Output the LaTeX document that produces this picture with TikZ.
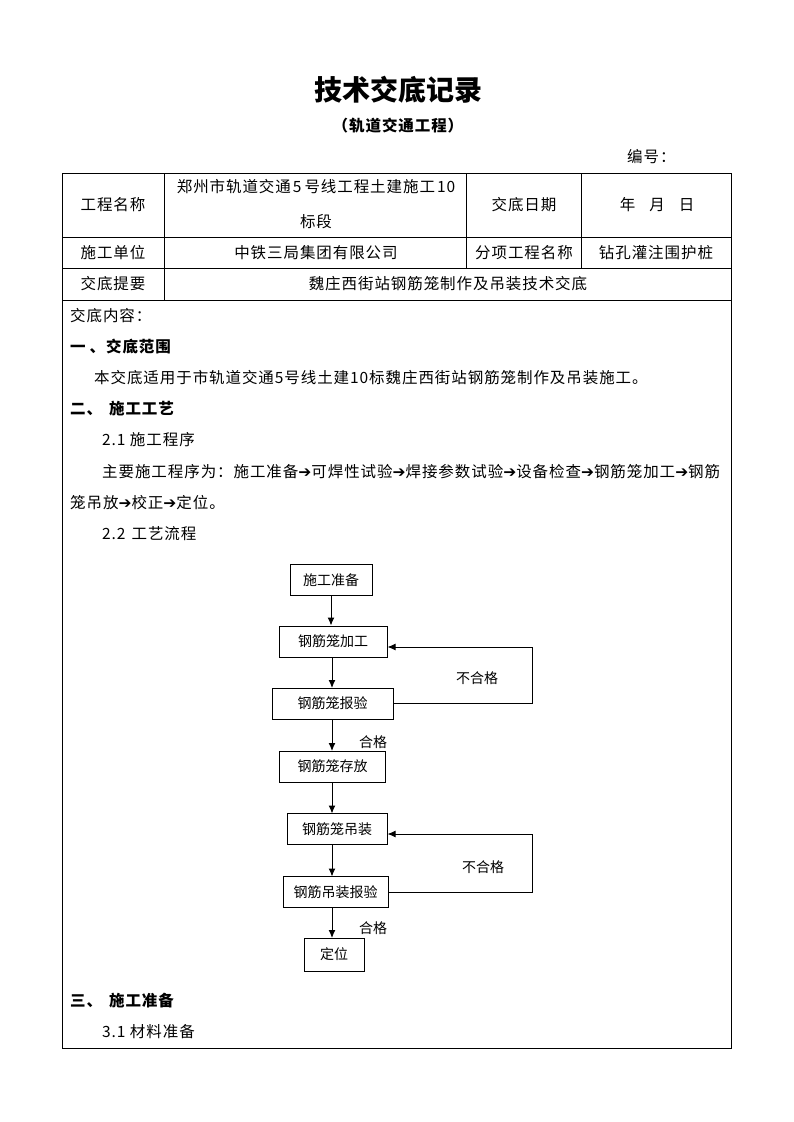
\documentclass[tikz,border=0pt]{standalone}
\usepackage{fontspec}
\setmainfont{Noto Sans CJK SC}[LetterSpace=6]
\newfontfamily\flowfont{Noto Sans CJK SC}
\newfontfamily\symfont{DejaVu Sans}
\usetikzlibrary{arrows.meta}
\newcommand{\thento}{{\symfont\char"2794}}
\tikzset{
  cell/.style={align=center,inner sep=0pt,font=\fontsize{15.5}{18}\selectfont},
  body/.style={anchor=west,inner sep=0pt,font=\fontsize{15.5}{18}\selectfont},
  flowbox/.style={draw,line width=1pt,minimum height=31pt,inner sep=0pt,font=\flowfont\fontsize{14}{16}\selectfont},
  flow/.style={line width=1pt,-{Latex[length=8pt,width=7pt]}},
  tag/.style={inner sep=0pt,font=\flowfont\fontsize{14}{16}\selectfont}
}
\begin{document}
\begin{tikzpicture}[x=1pt,y=-1pt]
\useasboundingbox (0,0) rectangle (793,1122);
\node[font=\flowfont\fontsize{28}{32}\selectfont\bfseries] (title) at (398,90){技术交底记录};
\node[font=\fontsize{15.5}{18}\selectfont\bfseries] (subtitle) at (398,126){（轨道交通工程）};
\node[body] (bianhao) at (627,157){编号：};
\draw[line width=1pt] (62,173) rectangle (731,1048);
\draw[line width=1pt] (62,237) -- (731,237);
\draw[line width=1pt] (62,268) -- (731,268);
\draw[line width=1pt] (62,300) -- (731,300);
\draw[line width=1pt] (164,173) -- (164,300);
\draw[line width=1pt] (466,173) -- (466,268);
\draw[line width=1pt] (581,173) -- (581,268);
\node[cell] (gcmc) at (113,205){工程名称};
\node[cell] (gcmcA) at (316,187){郑州市轨道交通\hspace{2pt}5\hspace{3pt}号线工程土建施工\hspace{2pt}10};
\node[cell] (gcmcB) at (316,222){标段};
\node[cell] (jdrq) at (524,205){交底日期};
\node[cell] (nyr) at (657,205){年\hspace{14pt}月\hspace{14pt}日};
\node[cell] (sgdw) at (113,253){施工单位};
\node[cell] (sgdwA) at (316,253){中铁三局集团有限公司};
\node[cell] (fxgc) at (524,253){分项工程名称};
\node[cell] (fxgcA) at (656,253){钻孔灌注围护桩};
\node[cell] (jdty) at (113,284){交底提要};
\node[cell] (jdtyA) at (448,284){魏庄西街站钢筋笼制作及吊装技术交底};
\node[body] (nr) at (70,316){交底内容：};
\node[body,font=\fontsize{15.5}{18}\selectfont\bfseries] (s1) at (70,347){一\hspace{4pt}、交底范围};
\node[body] (s1a) at (94,378){本交底适用于市轨道交通5号线土建10标魏庄西街站钢筋笼制作及吊装施工。};
\node[body,font=\fontsize{15.5}{18}\selectfont\bfseries] (s2) at (70,409){二、\hspace{7pt}施工工艺};
\node[body] (s21) at (102,440){2.1 施工程序};
\node[body] (s21a) at (102,472){主要施工程序为：施工准备\thento 可焊性试验\thento 焊接参数试验\thento 设备检查\thento 钢筋笼加工\thento 钢筋};
\node[body] (s21b) at (70,503){笼吊放\thento 校正\thento 定位。};
\node[body] (s22) at (102,534){2.2\hspace{6pt}工艺流程};
\node[flowbox,minimum width=82pt] (zb) at (331,580){施工准备};
\node[flowbox,minimum width=108pt] (jg) at (333,641.5){钢筋笼加工};
\node[flowbox,minimum width=121pt] (bao) at (332.5,703.5){钢筋笼报验};
\node[flowbox,minimum width=106pt] (cf) at (332.5,766.5){钢筋笼存放};
\node[flowbox,minimum width=100pt] (dz) at (337,829){钢筋笼吊装};
\node[flowbox,minimum width=105pt] (dzb) at (335.5,892){钢筋吊装报验};
\node[flowbox,minimum width=60pt,minimum height=33pt] (dw) at (334,954.5){定位};
\draw[flow] (zb.south) -- (zb.south |- jg.north);
\draw[flow] (332,657) -- (332,688);
\draw[flow] (332,719) -- (332,751);
\draw[flow] (332,782) -- (332,813.5);
\draw[flow] (332,844.5) -- (332,876.5);
\draw[flow] (332,907.5) -- (332,938);
\coordinate (ret1) at (532,647);
\coordinate (ret2) at (532,834);
\draw[flow] (bao.east) -| (ret1) -- (ret1 -| jg.east);
\draw[flow] (dzb.east) -| (ret2) -- (ret2 -| dz.east);
\node[tag] (bhg1) at (477,678){不合格};
\node[tag] (hg1) at (373,742){合格};
\node[tag] (bhg2) at (483,867){不合格};
\node[tag] (hg2) at (373,928){合格};
\node[body,font=\fontsize{15.5}{18}\selectfont\bfseries] (s3) at (70,1001){三、\hspace{7pt}施工准备};
\node[body] (s31) at (102,1032){3.1 材料准备};
\end{tikzpicture}
\end{document}
